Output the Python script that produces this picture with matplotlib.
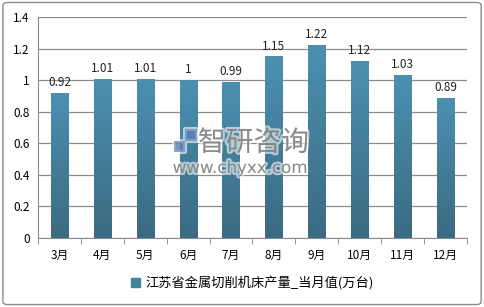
import numpy as np
import matplotlib
matplotlib.use('Agg')
import matplotlib.pyplot as plt
import matplotlib.patheffects as pe
from matplotlib.patches import FancyBboxPatch, Rectangle
from matplotlib.colors import LinearSegmentedColormap

plt.rcParams['font.family'] = ['Noto Sans CJK SC', 'DejaVu Sans']

# Data
months = ['3月', '4月', '5月', '6月', '7月', '8月', '9月', '10月', '11月', '12月']
values = [0.92, 1.01, 1.01, 1, 0.99, 1.15, 1.22, 1.12, 1.03, 0.89]
value_labels = ['0.92', '1.01', '1.01', '1', '0.99', '1.15', '1.22', '1.12', '1.03', '0.89']
series_name = '江苏省金属切削机床产量_当月值(万台)'
yticks = [0, 0.2, 0.4, 0.6, 0.8, 1, 1.2, 1.4]
ytick_labels = ['0', '0.2', '0.4', '0.6', '0.8', '1', '1.2', '1.4']

fig = plt.figure(figsize=(4.85, 3.07), dpi=100)
ax = fig.add_axes([38 / 485, 1 - 238 / 307, (467 - 38) / 485, (238 - 17) / 307])

# outer frame
fig.patches.append(FancyBboxPatch((0.006, 0.008), 0.986, 0.984, boxstyle='round,pad=0,rounding_size=0.01',
                                  transform=fig.transFigure, fill=False, edgecolor='#8c8c8c', lw=1.0))

x = np.arange(len(months))
width = 0.4
grad = LinearSegmentedColormap.from_list('g', ['#3b6b82', '#4b90b0'])
bars = ax.bar(x, values, width=width, color='#4584a1', zorder=2)
for b in bars:
    bx, by = b.get_x(), b.get_y()
    bw, bh = b.get_width(), b.get_height()
    im = ax.imshow(np.linspace(0, 1, 100).reshape(-1, 1), cmap=grad, origin='lower',
                   extent=[bx, bx + bw, by, by + bh], aspect='auto', zorder=3)
    im.set_clip_path(b)

for xi, v, lab in zip(x, values, value_labels):
    ax.text(xi, v + 0.025, lab, ha='center', va='bottom', fontsize=8.5, color='#222222', zorder=4)

ax.set_xlim(-0.5, len(months) - 0.5)
ax.set_ylim(0, 1.4)
ax.set_yticks(yticks)
ax.set_yticklabels(ytick_labels, fontsize=8.5)
ax.set_xticks(x)
ax.set_xticklabels(months, fontsize=8.5)
ax.set_xticks(np.arange(len(months) + 1) - 0.5, minor=True)
ax.tick_params(axis='x', which='major', length=0, pad=8)
ax.tick_params(axis='x', which='minor', length=4, color='#888888', direction='out')
ax.tick_params(axis='y', length=0, pad=6)
ax.grid(axis='y', color='#8c8c8c', lw=0.9, zorder=1)
for s in ['top', 'right']:
    ax.spines[s].set_visible(False)
ax.spines['left'].set_color('#8c8c8c')
ax.spines['bottom'].set_color('#8c8c8c')

# watermark
halo = [pe.withStroke(linewidth=3, foreground='white', alpha=0.6)]
fig.text(0.358, 0.535, '▞', fontsize=17, color='#5a7fb8', alpha=0.6, ha='left', va='center', path_effects=halo)
fig.text(0.408, 0.535, '智研咨询', fontsize=20, color='#707070', alpha=0.75, ha='left', va='center',
         path_effects=halo)
fig.text(0.356, 0.453, 'www.chyxx.com', fontsize=12, color='#707070', alpha=0.75, ha='left', va='center',
         family='DejaVu Sans', path_effects=halo)

# legend
leg = ax.legend([Rectangle((0, 0), 1, 1, color='#4584a1')], [series_name], loc='upper center',
                bbox_to_anchor=(0.5, -0.12), frameon=False, fontsize=9.5, handlelength=0.7,
                handleheight=0.7, handletextpad=0.4)

fig.savefig('out.png', dpi=100)
